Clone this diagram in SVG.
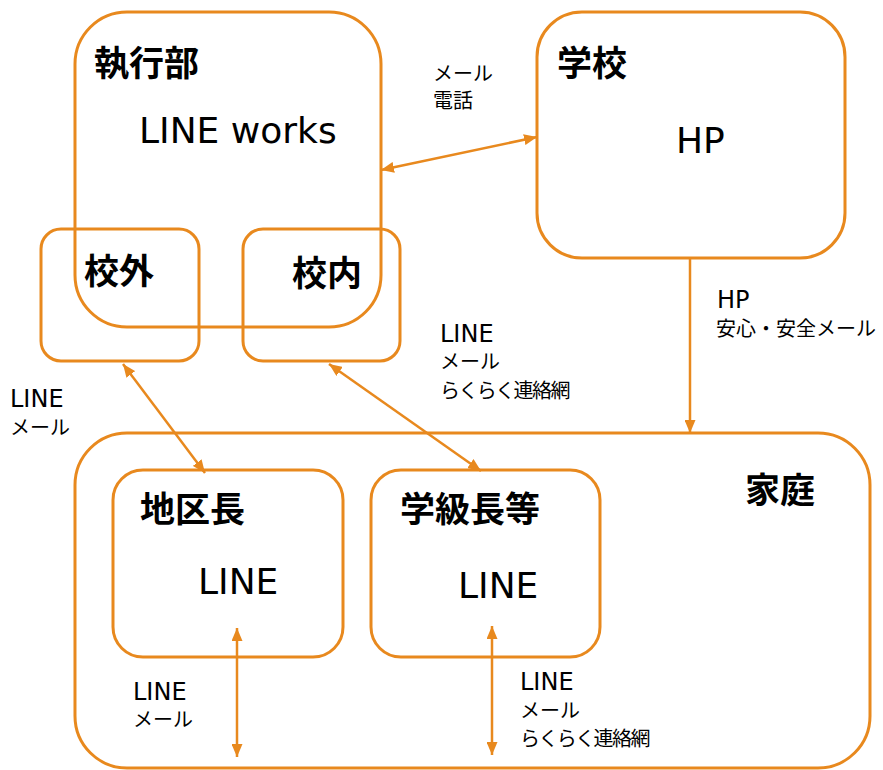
<svg xmlns="http://www.w3.org/2000/svg" width="883" height="770" viewBox="0 0 883 770">
<style>
.box{fill:none;stroke:#E8891E;stroke-width:3}
.con{fill:none;stroke:#E8891E;stroke-width:2.5}
.t{font-family:"Noto Sans CJK JP",sans-serif;font-weight:bold;font-size:35px;fill:#000}
.big{font-family:"DejaVu Sans","Noto Sans CJK JP",sans-serif;font-size:36px;fill:#000}
.lat{font-family:"DejaVu Sans",sans-serif;font-size:24px;fill:#000}
.jp{font-family:"Noto Sans CJK JP",sans-serif;font-size:20px;fill:#000}
.rk{letter-spacing:-1.6px}
</style>
<defs>
<marker id="ah" markerUnits="userSpaceOnUse" markerWidth="13" markerHeight="11" refX="13" refY="5.5" orient="auto-start-reverse" viewBox="0 0 13 11">
<path d="M0,0 L13,5.5 L0,11 z" fill="#E8891E"/>
</marker>
</defs>
<rect width="883" height="770" fill="#fff"/>
<g id="shikkoubu">
<rect class="box" x="75" y="12" width="306" height="315" rx="52"/>
<text class="t" x="94" y="76">執行部</text>
<text class="big" x="139" y="143">LINE works</text>
</g>
<g id="kougai">
<rect class="box" x="41" y="229" width="158" height="132" rx="20"/>
<text class="t" x="84" y="284">校外</text>
</g>
<g id="kounai">
<rect class="box" x="243" y="229" width="157" height="132" rx="20"/>
<text class="t" x="292" y="286">校内</text>
</g>
<g id="gakkou">
<rect class="box" x="537" y="12" width="308" height="246" rx="45"/>
<text class="t" x="557" y="76">学校</text>
<text class="big" x="676" y="153">HP</text>
</g>
<g id="katei">
<rect class="box" x="75" y="433" width="795" height="335" rx="52"/>
<text class="t" x="745" y="503">家庭</text>
</g>
<g id="chikucho">
<rect class="box" x="113" y="470" width="230" height="187" rx="30"/>
<text class="t" x="140" y="522">地区長</text>
<text class="big" x="198" y="594">LINE</text>
</g>
<g id="gakkyucho">
<rect class="box" x="371" y="470" width="229" height="187" rx="30"/>
<text class="t" x="400" y="522">学級長等</text>
<text class="big" x="458" y="598">LINE</text>
</g>
<g id="connectors">
<line class="con" x1="381" y1="170" x2="537" y2="137" marker-start="url(#ah)" marker-end="url(#ah)"/>
<line class="con" x1="690" y1="258" x2="690" y2="433" marker-end="url(#ah)"/>
<line class="con" x1="123" y1="364" x2="205" y2="473" marker-start="url(#ah)" marker-end="url(#ah)"/>
<line class="con" x1="329" y1="364" x2="481" y2="471" marker-start="url(#ah)" marker-end="url(#ah)"/>
<line class="con" x1="237" y1="628" x2="237" y2="757" marker-start="url(#ah)" marker-end="url(#ah)"/>
<line class="con" x1="492" y1="626" x2="492" y2="755" marker-start="url(#ah)" marker-end="url(#ah)"/>
</g>
<g id="labels">
<text class="jp" x="433" y="81">メール</text>
<text class="jp" x="433" y="108">電話</text>
<text class="lat" x="717" y="308">HP</text>
<text class="jp" x="716" y="336">安心・安全メール</text>
<text class="lat" x="440" y="342">LINE</text>
<text class="jp" x="440" y="369">メール</text>
<text class="jp rk" x="440" y="398">らくらく連絡網</text>
<text class="lat" x="10" y="407">LINE</text>
<text class="jp" x="10" y="435">メール</text>
<text class="lat" x="133" y="700">LINE</text>
<text class="jp" x="133" y="727">メール</text>
<text class="lat" x="520" y="690">LINE</text>
<text class="jp" x="520" y="718">メール</text>
<text class="jp rk" x="520" y="746">らくらく連絡網</text>
</g>
</svg>
